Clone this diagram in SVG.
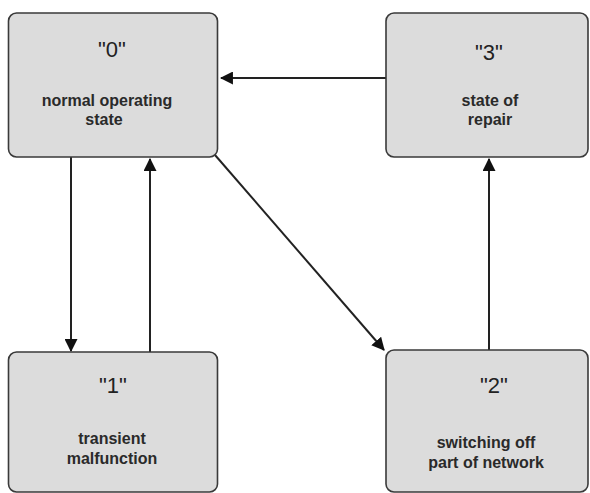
<svg xmlns="http://www.w3.org/2000/svg" width="590" height="493" viewBox="0 0 590 493">
<style>
.box{fill:#dcdcdc;stroke:#3a3a3a;stroke-width:1.6}
.num{font-family:"Liberation Sans",Arial,sans-serif;font-size:22px;fill:#222;text-anchor:middle}
.lbl{font-family:"Liberation Sans",Arial,sans-serif;font-size:16px;font-weight:bold;fill:#2a2a2a;text-anchor:middle}
.con{stroke:#222;stroke-width:2;fill:none;marker-end:url(#ah)}
</style>
<defs>
<marker id="ah" viewBox="0 0 12 12" refX="11" refY="6" markerWidth="13" markerHeight="13" markerUnits="userSpaceOnUse" orient="auto">
<path d="M0,0 L12,6 L0,12 Z" fill="#111"/>
</marker>
</defs>
<rect width="590" height="493" fill="#fff"/>
<g id="connectors">
<line class="con" x1="71" y1="157" x2="71" y2="351"/>
<line class="con" x1="150" y1="352" x2="150" y2="159"/>
<line class="con" x1="386" y1="78" x2="221" y2="78"/>
<line class="con" x1="215" y1="155" x2="384" y2="350"/>
<line class="con" x1="489" y1="350" x2="489" y2="159"/>
</g>
<g id="node0">
<rect class="box" x="8.5" y="13" width="209" height="144" rx="8"/>
<text class="num" x="112" y="57">"0"</text>
<text class="lbl" x="107" y="106">normal operating</text>
<text class="lbl" x="104" y="125">state</text>
</g>
<g id="node3">
<rect class="box" x="386" y="13" width="202" height="144" rx="8"/>
<text class="num" x="489" y="60">"3"</text>
<text class="lbl" x="490" y="106">state of</text>
<text class="lbl" x="490" y="125">repair</text>
</g>
<g id="node1">
<rect class="box" x="8.5" y="352" width="209" height="140" rx="8"/>
<text class="num" x="113" y="393">"1"</text>
<text class="lbl" x="112" y="444">transient</text>
<text class="lbl" x="112" y="464">malfunction</text>
</g>
<g id="node2">
<rect class="box" x="386" y="350" width="202" height="142" rx="8"/>
<text class="num" x="494" y="393">"2"</text>
<text class="lbl" x="486" y="448">switching off</text>
<text class="lbl" x="486" y="468">part of network</text>
</g>
</svg>
